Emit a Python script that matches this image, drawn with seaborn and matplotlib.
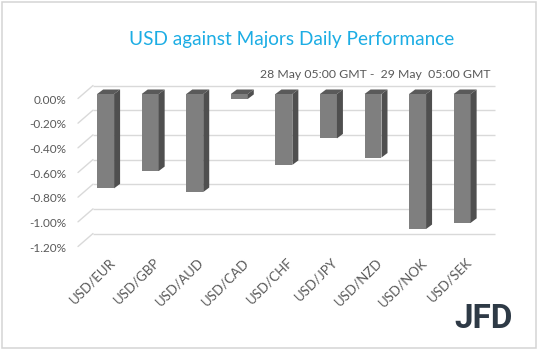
import matplotlib
matplotlib.use("Agg")
import matplotlib.pyplot as plt
import matplotlib.transforms as mtransforms
from matplotlib.patches import Polygon, Rectangle
from matplotlib.lines import Line2D
import seaborn as sns

# dados
pairs = ['USD/EUR', 'USD/GBP', 'USD/AUD', 'USD/CAD', 'USD/CHF',
         'USD/JPY', 'USD/NZD', 'USD/NOK', 'USD/SEK']
change = [-0.765, -0.625, -0.795, -0.04, -0.575, -0.36, -0.515, -1.095, -1.045]
yticks = [0.0, -0.2, -0.4, -0.6, -0.8, -1.0, -1.2]
ytick_labels = ['0.00%', '-0.20%', '-0.40%', '-0.60%', '-0.80%', '-1.00%', '-1.20%']

title = 'USD against Majors Daily Performance'
subtitle = '28 May 05:00 GMT -  29 May  05:00 GMT'

W, H = 538, 351
sns.set_style('white')
plt.rcParams['font.family'] = ['Lato', 'DejaVu Sans']

fig = plt.figure(figsize=(W / 100, H / 100), dpi=100)
# area do grafico (plano frontal das barras), em pixels
left, right, top, bottom = 82, 484, 94, 242
ax = fig.add_axes([left / W, (H - bottom) / H, (right - left) / W, (bottom - top) / H])

sns.barplot(x=pairs, y=change, color='#7f7f7f', saturation=1, width=0.38,
            linewidth=0, ax=ax, zorder=3)
ax.set_xlim(-0.53, 8.49)
ax.set_ylim(-1.2, 0)
ax.set_xlabel('')
ax.set_ylabel('')
sns.despine(ax=ax, left=True, bottom=True)
ax.patch.set_alpha(0)

# grade na parede do fundo
back = mtransforms.offset_copy(ax.transData, fig=fig, x=11, y=8.5, units='dots')
ax.hlines(yticks, -0.53, 8.49, colors='#d9d9d9', lw=1, transform=back, zorder=0, clip_on=False)

ident = mtransforms.IdentityTransform()
fig.canvas.draw()
for t in yticks:
    px, py = ax.transData.transform((-0.53, t))
    ax.add_line(Line2D([px - 4, px + 11], [py - 4.5, py + 8.5], color='#d9d9d9', lw=1,
                       transform=ident, clip_on=False, zorder=0))

# faces 3D das barras
dx, dy = 6, 4.5
for p in ax.patches:
    x0, x1 = p.get_x(), p.get_x() + p.get_width()
    ya, yb = p.get_y(), p.get_y() + p.get_height()
    (ax0, ay0), (ax1, ay1) = ax.transData.transform([(x0, max(ya, yb)), (x1, min(ya, yb))])
    topface = [(ax0, ay0), (ax1, ay0), (ax1 + dx, ay0 + dy), (ax0 + dx, ay0 + dy)]
    side = [(ax1, ay0), (ax1, ay1), (ax1 + dx, ay1 + dy), (ax1 + dx, ay0 + dy)]
    ax.add_patch(Polygon(topface, closed=True, fc='#5a5a5a', ec='none', transform=ident,
                         clip_on=False, zorder=3))
    ax.add_patch(Polygon(side, closed=True, fc='#4f4f4f', ec='none', transform=ident,
                         clip_on=False, zorder=3))

ax.set_yticks(yticks, ytick_labels)
ax.tick_params(axis='y', length=0, pad=11, labelsize=8.5, labelcolor='#595959')
for lab in ax.get_yticklabels():
    lab.set_transform(lab.get_transform() + mtransforms.ScaledTranslation(0, -0.05, fig.dpi_scale_trans))

ax.tick_params(axis='x', length=0, pad=10, labelsize=9.5, labelcolor='#595959')
for lab in ax.get_xticklabels():
    lab.set_rotation(45)
    lab.set_ha('right')
    lab.set_rotation_mode('anchor')
    lab.set_transform(lab.get_transform() + mtransforms.ScaledTranslation(0.03, 0, fig.dpi_scale_trans))

fig.text(292 / W, 1 - 40 / H, title, ha='center', va='center', fontsize=13.7, color='#1cade4')
fig.text(491 / W, 1 - 74 / H, subtitle, ha='right', va='center', fontsize=8.8, color='#595959')
fig.text(484 / W, 1 - 319 / H, 'JFD', ha='center', va='center', fontsize=24,
         fontweight='bold', family=['Roboto', 'DejaVu Sans'], color='#2e3a46')

fig.add_artist(Rectangle((2 / W, (H - 348) / H), 534 / W, 346 / H, transform=fig.transFigure,
                         fill=False, ec='#d4d4d4', lw=1.1))

fig.savefig('out.png', dpi=100)
